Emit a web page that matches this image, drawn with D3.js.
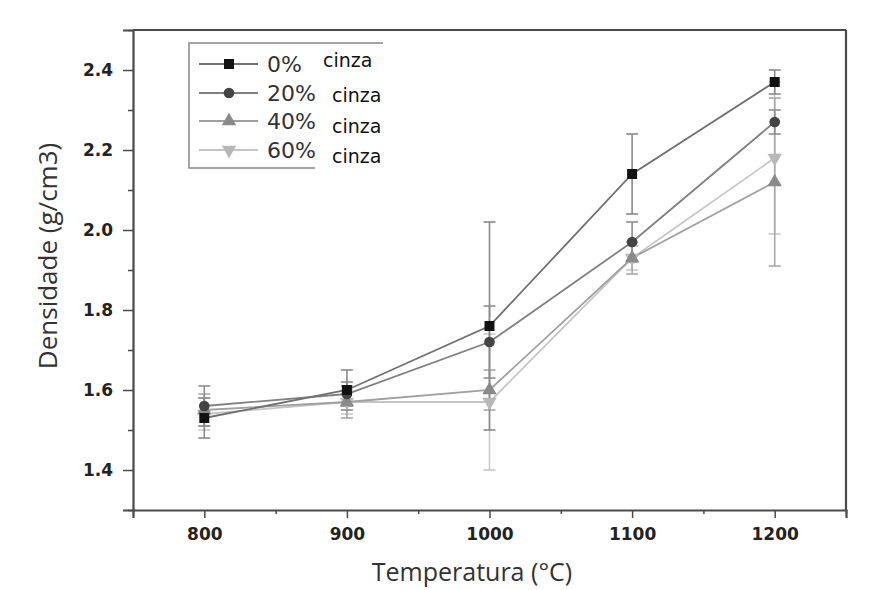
<!DOCTYPE html>
<html>
<head>
<meta charset="utf-8">
<script src="https://cdn.jsdelivr.net/npm/d3@7/dist/d3.min.js"></script>
<style>
  html, body { margin: 0; padding: 0; background: #fff; }
  svg { display: block; }
</style>
</head>
<body>
<svg id="chart" width="877" height="590"></svg>
<script>
// Firing temperatures (°C)
const temperatures = [800, 900, 1000, 1100, 1200];

// Series names (ash content) and legend suffix
const seriesNames = ["0%", "20%", "40%", "60%"];
const legendSuffix = "cinza";

// Mean density (g/cm3) per series, per temperature
const density0 = [1.53, 1.60, 1.76, 2.14, 2.37];
const density20 = [1.56, 1.59, 1.72, 1.97, 2.27];
const density40 = [1.55, 1.57, 1.60, 1.93, 2.12];
const density60 = [1.54, 1.57, 1.57, 1.93, 2.18];

// Error (± g/cm3) per series, per temperature
const error0 = [0.05, 0.05, 0.26, 0.10, 0.03];
const error20 = [0.05, 0.03, 0.09, 0.05, 0.03];
const error40 = [0.04, 0.04, 0.05, 0.04, 0.21];
const error60 = [0.04, 0.03, 0.17, 0.03, 0.19];

// Axis ticks
const yTicks = [1.4, 1.6, 1.8, 2.0, 2.2, 2.4];
const yMinorTicks = [1.3, 1.5, 1.7, 1.9, 2.1, 2.3, 2.5];
const xMinorTicks = [750, 850, 950, 1050, 1150, 1250];

const xLabel = "Temperatura (°C)";
const yLabel = "Densidade (g/cm3)";

const styles = [
  { line: "#707070", mark: "#111111", err: "#8a8a8a", symbol: d3.symbolSquare, size: 100, rot: 0 },
  { line: "#808080", mark: "#444444", err: "#8f8f8f", symbol: d3.symbolCircle, size: 90, rot: 0 },
  { line: "#a0a0a0", mark: "#8a8a8a", err: "#a8a8a8", symbol: d3.symbolTriangle, size: 90, rot: 0 },
  { line: "#c6c6c6", mark: "#b8b8b8", err: "#c8c8c8", symbol: d3.symbolTriangle, size: 90, rot: 180 }
];

const means = [density0, density20, density40, density60];
const errors = [error0, error20, error40, error60];
const series = seriesNames.map((name, i) => ({
  name,
  points: temperatures.map((t, j) => ({ t, v: means[i][j], e: errors[i][j] })),
  style: styles[i]
}));

const svg = d3.select("#chart");
const plotLeft = 133, plotRight = 846, plotTop = 30, plotBottom = 510;

const x = d3.scaleLinear().domain([750, 1250]).range([plotLeft, plotRight]);
const y = d3.scaleLinear().domain([1.3, 2.5]).range([plotBottom, plotTop]);

const axisColor = "#4a4a4a";
const textFont = "DejaVu Sans, Verdana, sans-serif";
const titleFont = "Open Sans, DejaVu Sans, sans-serif";

// Error bars (lightest series first so darker ones sit on top)
const errG = svg.append("g");
series.slice().reverse().forEach(s => {
  const g = errG.append("g").attr("stroke", s.style.err).attr("stroke-width", 1.6);
  s.points.forEach(p => {
    g.append("line").attr("x1", x(p.t)).attr("x2", x(p.t))
      .attr("y1", y(p.v - p.e)).attr("y2", y(p.v + p.e));
    [p.v - p.e, p.v + p.e].forEach(v => {
      g.append("line").attr("x1", x(p.t) - 6).attr("x2", x(p.t) + 6)
        .attr("y1", y(v)).attr("y2", y(v));
    });
  });
});

// Connecting lines
const line = d3.line().x(d => x(d.t)).y(d => y(d.v));
series.slice().reverse().forEach(s => {
  svg.append("path").datum(s.points)
    .attr("fill", "none")
    .attr("stroke", s.style.line)
    .attr("stroke-width", 1.8)
    .attr("d", line);
});

// Markers
series.slice().reverse().forEach(s => {
  const sym = d3.symbol().type(s.style.symbol).size(s.style.size);
  svg.append("g").selectAll("path").data(s.points).join("path")
    .attr("d", sym)
    .attr("fill", s.style.mark)
    .attr("transform", d => `translate(${x(d.t)},${y(d.v)}) rotate(${s.style.rot})`);
});

// Axes
svg.append("g").attr("transform", `translate(${plotLeft},0)`)
  .call(d3.axisLeft(y).tickValues(yTicks).tickSize(10).tickPadding(10).tickFormat(d3.format(".1f")));
svg.append("g").attr("transform", `translate(${plotLeft},0)`)
  .call(d3.axisLeft(y).tickValues(yMinorTicks).tickSize(5).tickFormat(""))
  .call(g => g.select(".domain").remove());

svg.append("g").attr("transform", `translate(0,${plotBottom})`)
  .call(d3.axisBottom(x).tickValues(temperatures).tickSize(8).tickPadding(10).tickFormat(d3.format("d")));
svg.append("g").attr("transform", `translate(0,${plotBottom})`)
  .call(d3.axisBottom(x).tickValues(xMinorTicks).tickSize(4).tickFormat(""))
  .call(g => g.select(".domain").remove());

svg.selectAll(".tick line").attr("stroke", axisColor).attr("stroke-width", 1.5);
svg.selectAll(".domain").attr("stroke", axisColor).attr("stroke-width", 2.2);
svg.selectAll(".tick text")
  .attr("font-family", textFont)
  .attr("font-weight", "bold")
  .attr("font-size", 17)
  .attr("fill", "#222");

// Top and right frame edges
svg.append("line").attr("x1", plotLeft).attr("x2", plotRight).attr("y1", plotTop).attr("y2", plotTop)
  .attr("stroke", axisColor).attr("stroke-width", 2.2);
svg.append("line").attr("x1", plotRight).attr("x2", plotRight).attr("y1", plotTop).attr("y2", plotBottom)
  .attr("stroke", axisColor).attr("stroke-width", 2.2);

// Axis titles
svg.append("text")
  .attr("x", 472).attr("y", 581)
  .attr("text-anchor", "middle")
  .attr("font-family", titleFont)
  .attr("font-size", 25).attr("fill", "#333")
  .text(xLabel);
svg.append("text")
  .attr("transform", `translate(57,256) rotate(-90)`)
  .attr("text-anchor", "middle")
  .attr("font-family", titleFont)
  .attr("font-size", 26).attr("fill", "#333")
  .text(yLabel);

// Legend
const lg = svg.append("g");
lg.append("path")
  .attr("d", "M383,43 H189 V168 H315")
  .attr("fill", "none").attr("stroke", "#888").attr("stroke-width", 1.5);
const rowY = [64, 93, 121, 150];
const suffixX = [323, 332, 332, 332];
const suffixDy = [3, 9, 12, 13];
series.forEach((s, i) => {
  const cy = rowY[i];
  lg.append("line").attr("x1", 199).attr("x2", 258).attr("y1", cy).attr("y2", cy)
    .attr("stroke", s.style.line).attr("stroke-width", 1.8);
  lg.append("path")
    .attr("d", d3.symbol().type(s.style.symbol).size(s.style.size)())
    .attr("fill", s.style.mark)
    .attr("transform", `translate(229,${cy}) rotate(${s.style.rot})`);
  lg.append("text").attr("x", 267).attr("y", cy + 8)
    .attr("font-family", textFont)
    .attr("font-size", 22).attr("fill", "#333")
    .text(s.name);
  lg.append("text").attr("x", suffixX[i]).attr("y", cy + suffixDy[i])
    .attr("font-family", textFont)
    .attr("font-size", 19).attr("fill", "#111")
    .text(legendSuffix);
});
</script>
</body>
</html>
